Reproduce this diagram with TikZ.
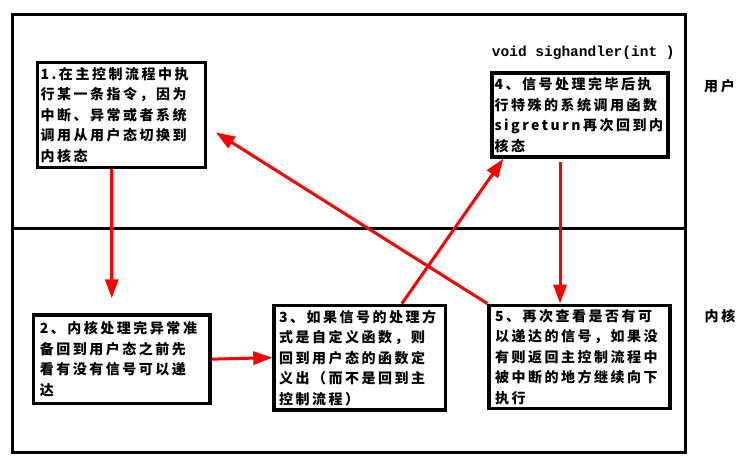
\documentclass[tikz,border=0pt]{standalone}
\usepackage{fontspec}
\newfontfamily\cjk[LetterSpace=18]{Noto Sans CJK SC}
\newfontfamily\codefont{Liberation Mono}
\usepackage{tikz}
\usetikzlibrary{arrows.meta, positioning}

\begin{document}
\begin{tikzpicture}[
            x = 1pt, y = -1pt, % pixel units, y pointing down
            > = {Triangle[length=19pt, width=13pt]}, % arrow head style
            line join = miter
        ]

        \tikzstyle{box}=[
            draw = black,
            line width = 3.4pt,
            anchor = north west,
            align = left,
            inner ysep = 0pt,
            font = \cjk\bfseries\fontsize{14}{20.5}\selectfont
        ]
        \tikzstyle{flow}=[
            ->,
            draw = red,
            line width = 3pt
        ]
        \tikzstyle{side}=[
            font = \cjk\bfseries\fontsize{14}{17}\selectfont
        ]

        \useasboundingbox (0,0) rectangle (750,463);

        % user / kernel frame
        \draw[line width=3pt] (12.3,14.7) rectangle (685.3,452.3);
        \draw[line width=3pt] (12.3,228) -- (685.3,228);

        \node[box, inner xsep=3pt, text width=162pt, minimum height=105pt] (s1) at (35.8,60.8)
            {1.在主控制流程中执\\行某一条指令，因为\\中断、异常或者系统\\调用从用户态切换到\\内核态};
        \node[box, inner xsep=6.5pt, text width=163.7pt, minimum height=88.3pt] (s2) at (31.6,313.3)
            {2、内核处理完异常准\\备回到用户态之前先\\看有没有信号可以递\\达};
        \node[box, inner xsep=5pt, text width=161.7pt, minimum height=104.7pt] (s3) at (272.3,303.6)
            {3、如果信号的处理方\\式是自定义函数，则\\回到用户态的函数定\\义出（而不是回到主\\控制流程）};
        \node[box, inner xsep=2.5pt, text width=171pt, minimum height=84.2pt] (s4) at (490.3,71.1)
            {4、信号处理完毕后执\\行特殊的系统调用函数\\sigreturn再次回到内\\核态};
        \node[box, inner xsep=6pt, text width=169pt, minimum height=103pt] (s5) at (487.3,303.6)
            {5、再次查看是否有可\\以递达的信号，如果没\\有则返回主控制流程中\\被中断的地方继续向下\\执行};

        \node[anchor=base west, inner sep=0pt, font=\codefont\bfseries\fontsize{14.5}{17}\selectfont]
            (sig) at ([xshift=1.4pt, yshift=14.4pt]s4.north west) {void sighandler(int )};
        \node[side] (user) at (719.5,86) {用户};
        \node[side] (kern) at (720,316) {内核};

        \draw[flow] ([xshift=-9.8pt]s1.south) -- ([xshift=-9.9pt, yshift=15pt]s2.north);
        \draw[flow] (s2.east) -- (s3.west);
        \draw[flow] ([xshift=42pt]s3.north) -- ([xshift=13pt]s4.south west);
        \draw[flow] ([xshift=-20pt, yshift=-3pt]s4.south) -- ([xshift=-19.5pt]s5.north);
        \draw[flow] (s5.north west) -- ([xshift=8.6pt, yshift=-17.4pt]s1.east);

  \end{tikzpicture}
\end{document}
